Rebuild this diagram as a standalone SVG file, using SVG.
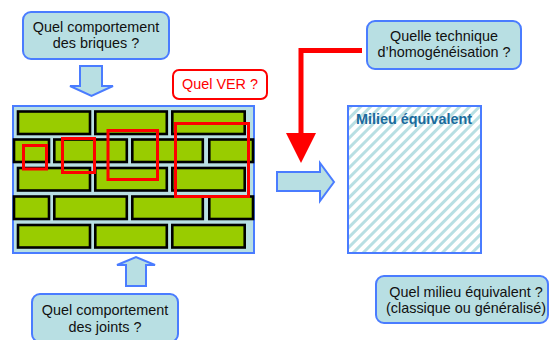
<svg xmlns="http://www.w3.org/2000/svg" width="550" height="340" viewBox="0 0 550 340">
<style>
.q{fill:#b8dfe3;stroke:#4a7cff;stroke-width:2}
.t{font-family:"Liberation Sans",Arial,sans-serif;font-size:14.4px;fill:#111;text-anchor:middle}
.b{fill:#99cc00;stroke:#000;stroke-width:2.6}
.r{fill:none;stroke:#ff0000;stroke-width:3}
.ba{fill:#b8dfe3;stroke:#4a7cff;stroke-width:2;stroke-linejoin:miter}
</style>
<defs>
<pattern id="hatch" width="7" height="7" patternUnits="userSpaceOnUse" patternTransform="rotate(45)">
<rect width="7" height="7" fill="#ffffff"/>
<rect width="3" height="7" fill="#b8dfe3"/>
</pattern>
</defs>
<g id="q-briques">
<rect class="q" x="23" y="12" width="146" height="47" rx="8"/>
<text class="t" x="96" y="31.5">Quel comportement</text>
<text class="t" x="96" y="47.5">des briques ?</text>
</g>
<g id="q-ver">
<rect x="173" y="70" width="94" height="29" rx="6" fill="#fff" stroke="#ff0000" stroke-width="2"/>
<text class="t" x="220" y="89" fill="#ff0000" style="fill:#ff0000">Quel VER ?</text>
</g>
<g id="q-technique">
<rect class="q" x="367" y="21" width="154" height="48" rx="8"/>
<text class="t" x="444" y="41">Quelle technique</text>
<text class="t" x="444" y="57.3">d’homogénéisation ?</text>
</g>
<g id="wall">
<rect x="13" y="106" width="241" height="147" fill="#b8dfe3" stroke="#4a7cff" stroke-width="2"/>
<rect class="b" x="18" y="111.5" width="72" height="22.5"/>
<rect class="b" x="95.3" y="111.5" width="71.5" height="22.5"/>
<rect class="b" x="172.3" y="111.5" width="72.4" height="22.5"/>
<rect class="b" x="14" y="139.5" width="35" height="22.5"/>
<rect class="b" x="54.3" y="139.5" width="72.5" height="22.5"/>
<rect class="b" x="132.3" y="139.5" width="70.5" height="22.5"/>
<rect class="b" x="209.3" y="139.5" width="43.7" height="22.5"/>
<rect class="b" x="18" y="168" width="72" height="22.5"/>
<rect class="b" x="95.3" y="168" width="71.5" height="22.5"/>
<rect class="b" x="172.3" y="168" width="72.4" height="22.5"/>
<rect class="b" x="14" y="196.5" width="35" height="22.5"/>
<rect class="b" x="54.3" y="196.5" width="72.5" height="22.5"/>
<rect class="b" x="132.3" y="196.5" width="70.5" height="22.5"/>
<rect class="b" x="209.3" y="196.5" width="43.7" height="22.5"/>
<rect class="b" x="18" y="225" width="72" height="22.5"/>
<rect class="b" x="95.3" y="225" width="71.5" height="22.5"/>
<rect class="b" x="172.3" y="225" width="72.4" height="22.5"/>
<rect class="r" x="23.5" y="145.5" width="23" height="23.5"/>
<rect class="r" x="62.5" y="138.5" width="32" height="34"/>
<rect class="r" x="108" y="130.5" width="49.5" height="49"/>
<rect class="r" x="175.5" y="123.5" width="73" height="73"/>
</g>
<g id="milieu">
<rect x="348" y="106" width="133" height="147" fill="url(#hatch)" stroke="#4a7cff" stroke-width="2"/>
<text x="414" y="124" style="font-family:'Liberation Sans',Arial,sans-serif;font-size:14.4px;font-weight:bold;fill:#1b6a9c;text-anchor:middle">Milieu équivalent</text>
</g>
<g id="q-joints">
<rect class="q" x="32" y="294" width="146" height="48" rx="8"/>
<text class="t" x="105" y="315">Quel comportement</text>
<text class="t" x="105" y="331.5">des joints ?</text>
</g>
<g id="q-milieu">
<rect class="q" x="376" y="276" width="172" height="47" rx="8"/>
<text class="t" x="466" y="296.7">Quel milieu équivalent ?</text>
<text class="t" x="466" y="312.5">(classique ou généralisé)</text>
</g>
<g id="connectors">
<polygon class="ba" points="80,66 102,66 102,86 113,86 91.5,96 70,86 80,86"/>
<polygon class="ba" points="126,286 146,286 146,265 155,265 136,257 117,265 126,265"/>
<polygon class="ba" points="277,172 320,172 320,163 334,182 320,201 320,191 277,191"/>
<polyline points="362,50.5 301,50.5 301,134" fill="none" stroke="#ff0000" stroke-width="5"/>
<polygon points="286,133 316,133 301,163" fill="#ff0000"/>
</g>
</svg>
